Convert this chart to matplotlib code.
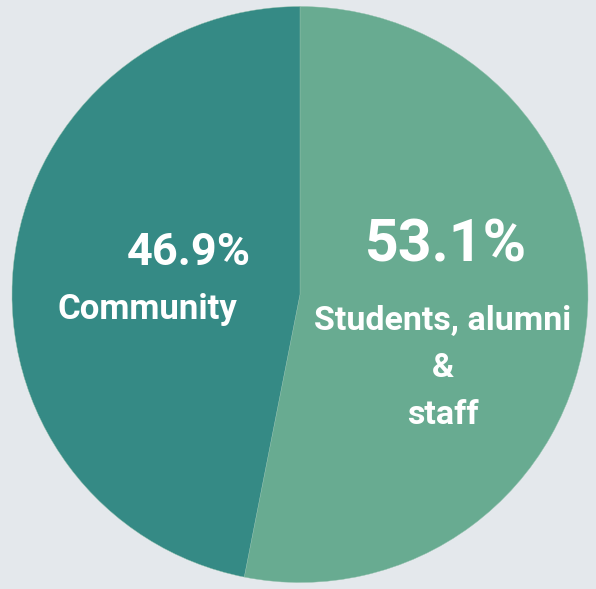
import matplotlib
matplotlib.use("Agg")
import matplotlib.pyplot as plt

categories = ["Students, alumni\n&\nstaff", "Community"]
values = [53.1, 46.9]
colors = ["#68ab91", "#358a85"]
pct_labels = ["53.1%", "46.9%"]

W, H = 596, 589
fig = plt.figure(figsize=(W / 100, H / 100), dpi=100)
fig.patch.set_facecolor("#e4e8ec")
ax = fig.add_axes([0, 0, 1, 1])
ax.set_facecolor("#e4e8ec")

cx, cy, r = 300, H - 294.5, 288
ax.pie(values, colors=colors, startangle=90, counterclock=False,
       center=(cx, cy), radius=r, frame=True,
       wedgeprops=dict(edgecolor="#8fc0ab", linewidth=0.3))
ax.set_xlim(0, W)
ax.set_ylim(0, H)
ax.set_aspect("equal")
ax.axis("off")

font = "Roboto"
# Students slice labels
ax.text(446.5, H - 245, pct_labels[0], ha="center", va="center", color="white",
        fontsize=42.5, fontweight="bold", family=font)
ax.text(443, H - 368, categories[0], ha="center", va="center", color="white",
        fontsize=24.5, fontweight="bold", family=font, linespacing=1.62)
# Community slice labels
ax.text(188.5, H - 253, pct_labels[1], ha="center", va="center", color="white",
        fontsize=32.5, fontweight="bold", family=font)
ax.text(147.5, H - 309, categories[1], ha="center", va="center", color="white",
        fontsize=25, fontweight="bold", family=font)

fig.savefig("out.png", dpi=100, facecolor=fig.get_facecolor())
